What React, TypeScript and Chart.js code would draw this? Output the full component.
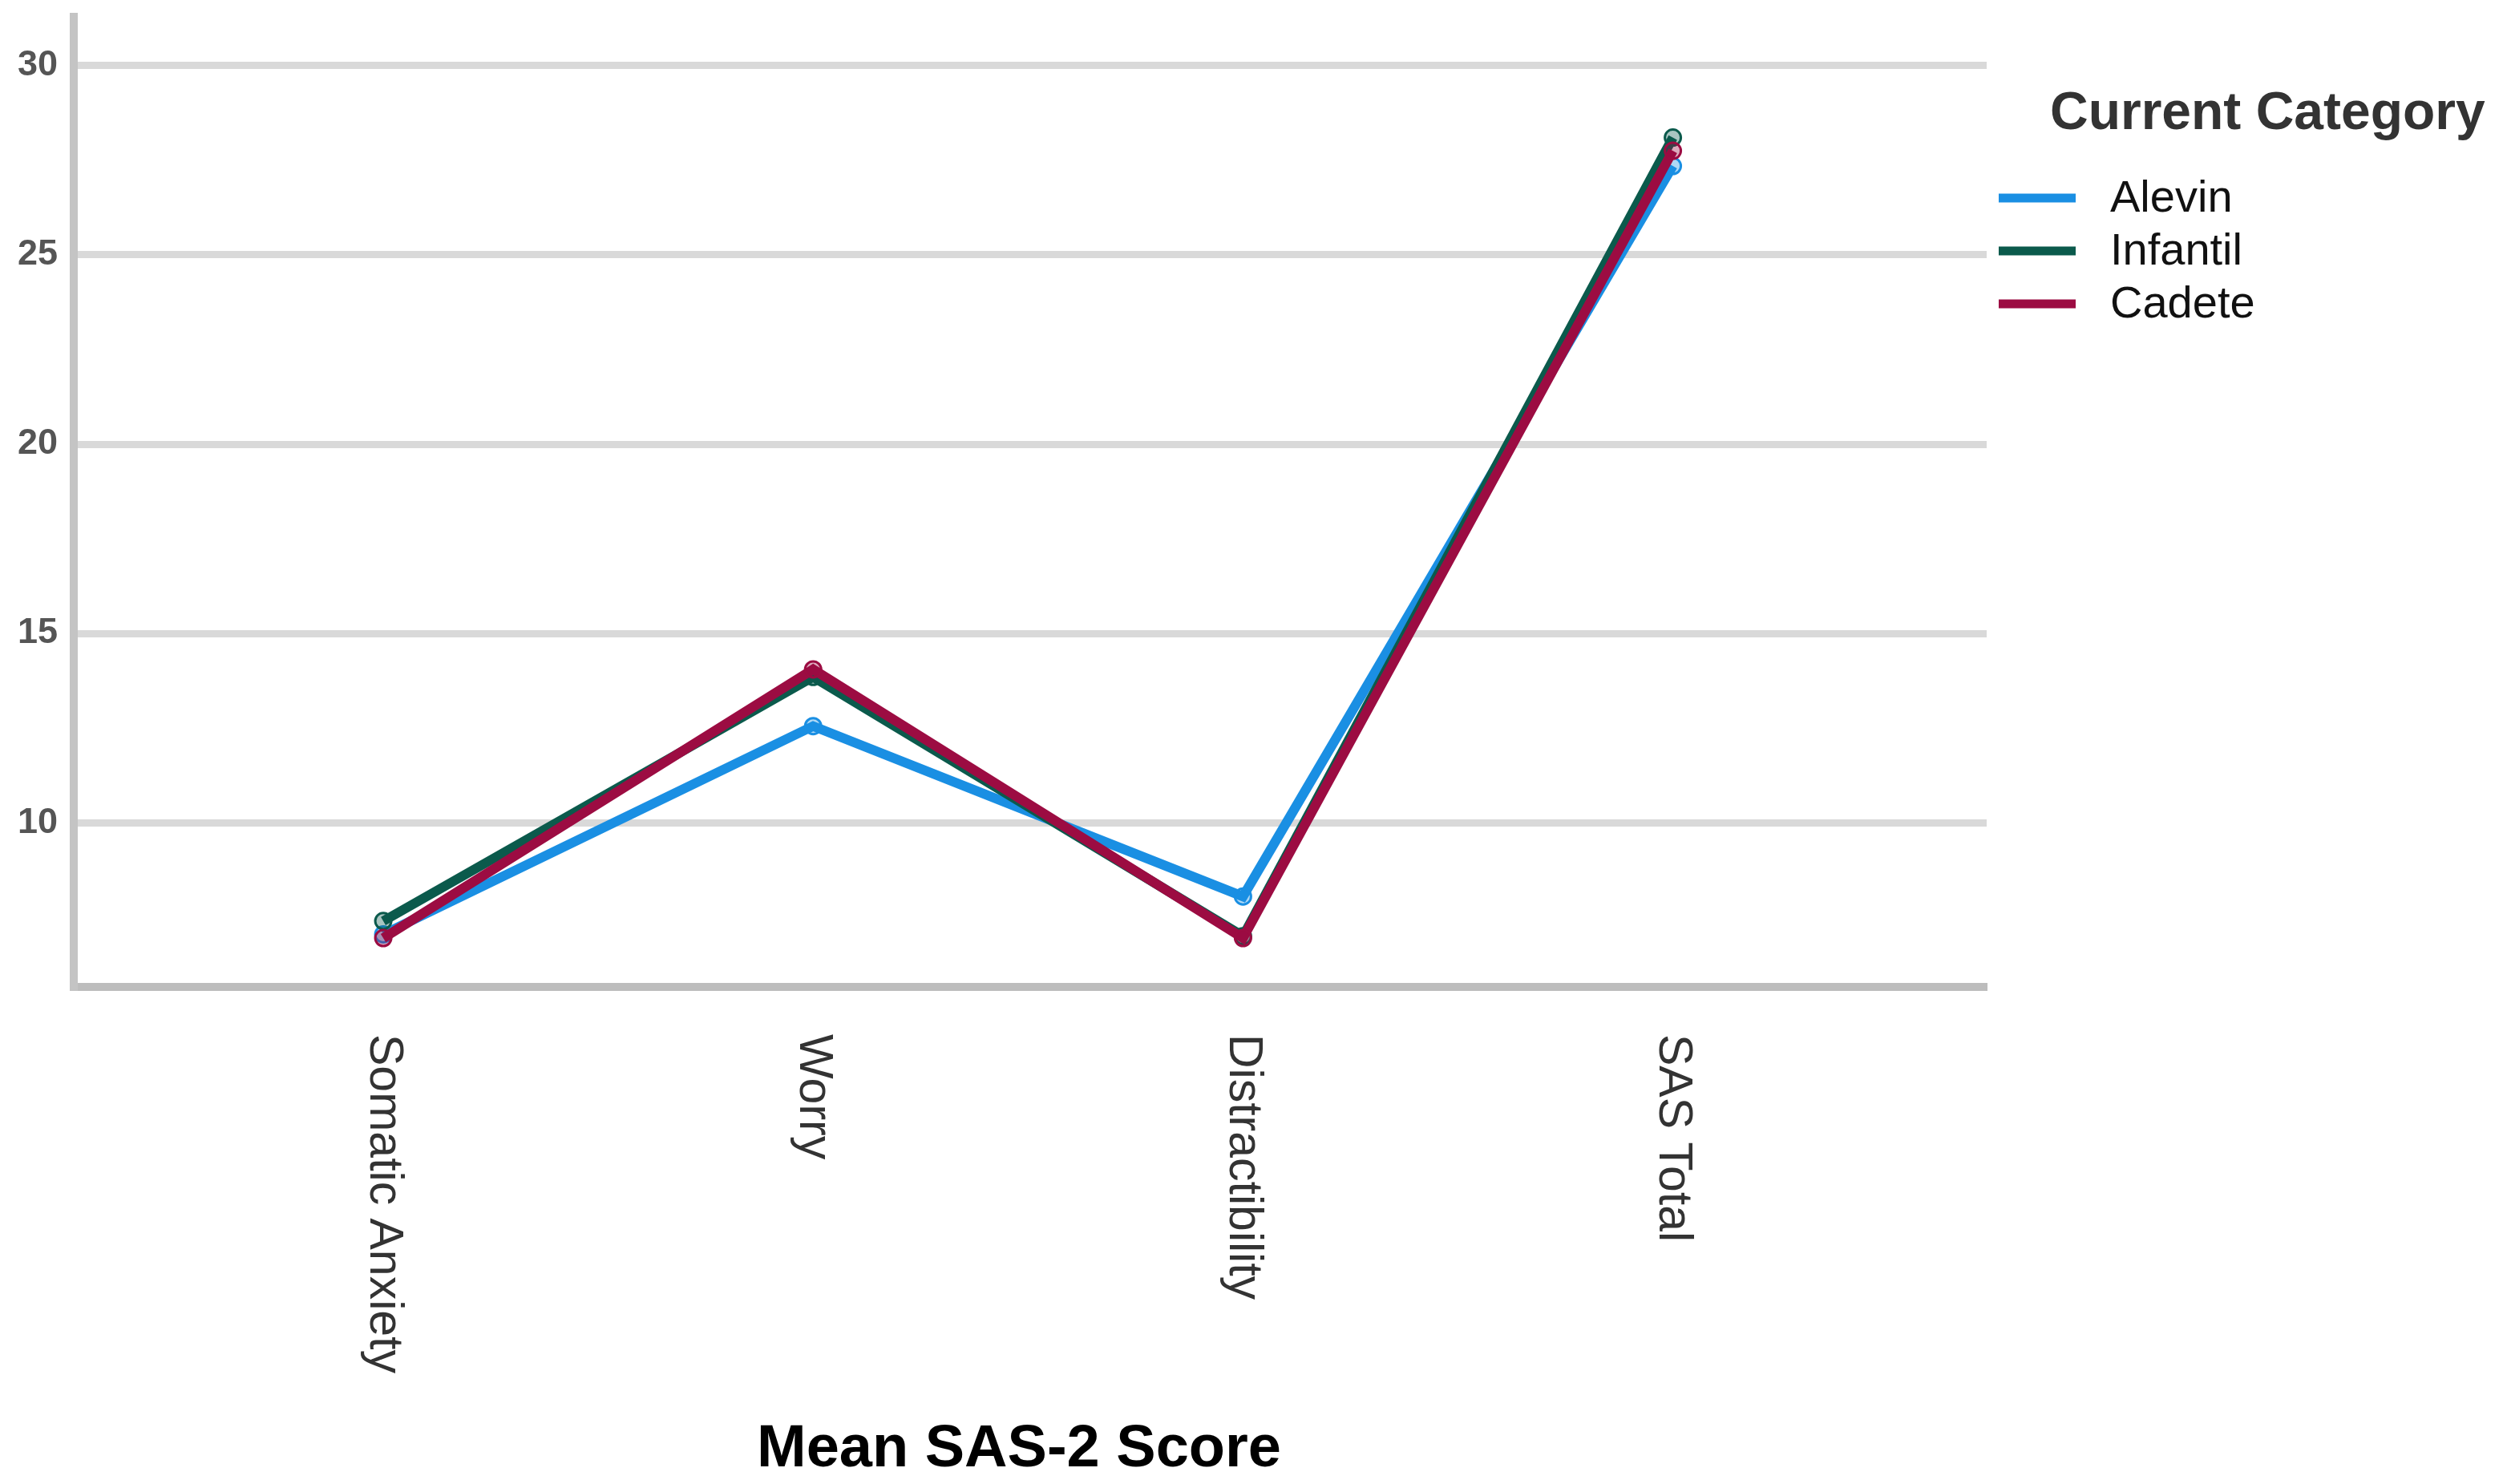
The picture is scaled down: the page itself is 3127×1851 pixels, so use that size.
import React, { useEffect, useRef } from "react";
import { Chart, registerables } from "chart.js";

Chart.register(...registerables);

const categories = ["Somatic Anxiety", "Worry", "Distractibility", "SAS Total"];
const alevin = [7.05, 12.55, 8.05, 27.35];
const infantil = [7.4, 13.85, 7.0, 28.1];
const cadete = [6.95, 14.05, 6.95, 27.75];
const yTicks = [10, 15, 20, 25, 30];
const seriesNames = ["Alevin", "Infantil", "Cadete"];
const seriesColors = ["#1a8fe3", "#0b5a4c", "#9c0c42"];
const seriesFills = ["rgba(26,143,227,0.35)", "rgba(11,90,76,0.35)", "rgba(156,12,66,0.35)"];
const legendTitle = "Current Category";
const xTitle = "Mean SAS-2 Score";

const FONT = "'Liberation Sans', Arial, sans-serif";

const decorPlugin = {
  id: "decor",
  afterDraw(chart: any) {
    const ctx = chart.ctx;
    const xs = chart.scales.x;
    ctx.save();
    ctx.fillStyle = "#333333";
    ctx.font = `59px ${FONT}`;
    ctx.textAlign = "left";
    ctx.textBaseline = "middle";
    categories.forEach((c, i) => {
      const x = xs.getPixelForValue(i);
      ctx.save();
      ctx.translate(x, 1290);
      ctx.rotate(Math.PI / 2);
      ctx.fillText(c, 0, 0);
      ctx.restore();
    });
    ctx.fillStyle = "#000000";
    ctx.font = `bold 74px ${FONT}`;
    ctx.textAlign = "center";
    ctx.fillText(xTitle, 1271, 1809);
    ctx.fillStyle = "#333333";
    ctx.font = `bold 66px ${FONT}`;
    ctx.textAlign = "left";
    ctx.fillText(legendTitle, 2557, 143);
    const ys = [247, 313, 379];
    seriesNames.forEach((n, i) => {
      ctx.strokeStyle = seriesColors[i];
      ctx.lineWidth = 11;
      ctx.beginPath();
      ctx.moveTo(2493, ys[i]);
      ctx.lineTo(2589, ys[i]);
      ctx.stroke();
      ctx.fillStyle = "#111111";
      ctx.font = `56px ${FONT}`;
      ctx.fillText(n, 2632, ys[i] + 2);
    });
    ctx.restore();
  },
};

export default function App() {
  const ref = useRef<HTMLCanvasElement | null>(null);
  useEffect(() => {
    if (!ref.current) return;
    const seriesData = [alevin, infantil, cadete];
    const chart = new Chart(ref.current, {
      type: "line",
      data: {
        datasets: seriesNames.map((n, i) => ({
          label: n,
          data: seriesData[i].map((v, j) => ({ x: j, y: v })),
          borderColor: seriesColors[i],
          backgroundColor: seriesFills[i],
          pointBackgroundColor: seriesFills[i],
          pointBorderColor: seriesColors[i],
          pointBorderWidth: 3,
          pointRadius: 10,
          borderWidth: 12,
          tension: 0,
          fill: false,
          order: 2 - i,
        })),
      },
      options: {
        responsive: false,
        animation: false,
        devicePixelRatio: 1,
        layout: { padding: { left: 0, top: 21, right: 3127 - 2478, bottom: 0 } },
        plugins: { legend: { display: false }, tooltip: { enabled: false } },
        scales: {
          x: {
            type: "linear",
            min: -0.72,
            max: 3.73,
            grid: { display: false, drawTicks: false },
            border: { display: true, color: "#bdbdbd", width: 10 },
            ticks: { display: false },
            afterBuildTicks: (s: any) => {
              s.ticks = categories.map((_, i) => ({ value: i }));
            },
            afterFit: (s: any) => {
              s.height = 1851 - 1231;
              s.paddingLeft = 0;
              s.paddingRight = 0;
            },
          },
          y: {
            type: "linear",
            min: 5.66,
            max: 31.29,
            grid: { color: "#d9d9d9", lineWidth: 9, drawTicks: false },
            border: { display: true, color: "#c4c4c4", width: 10 },
            ticks: {
              padding: 20,
              color: "#555555",
              font: { family: FONT, size: 45, weight: "bold" },
              callback: (v: any) => String(v),
            },
            afterBuildTicks: (s: any) => {
              s.ticks = yTicks.map((v) => ({ value: v }));
            },
            afterFit: (s: any) => {
              s.width = 92;
              s.paddingTop = 0;
              s.paddingBottom = 0;
            },
          },
        },
      },
      plugins: [decorPlugin],
    });
    return () => chart.destroy();
  }, []);
  return (
    <div style={{ position: "fixed", left: 0, top: 0, width: 3127, height: 1851, background: "#ffffff" }}>
      <canvas ref={ref} width={3127} height={1851} style={{ display: "block" }} />
    </div>
  );
}
